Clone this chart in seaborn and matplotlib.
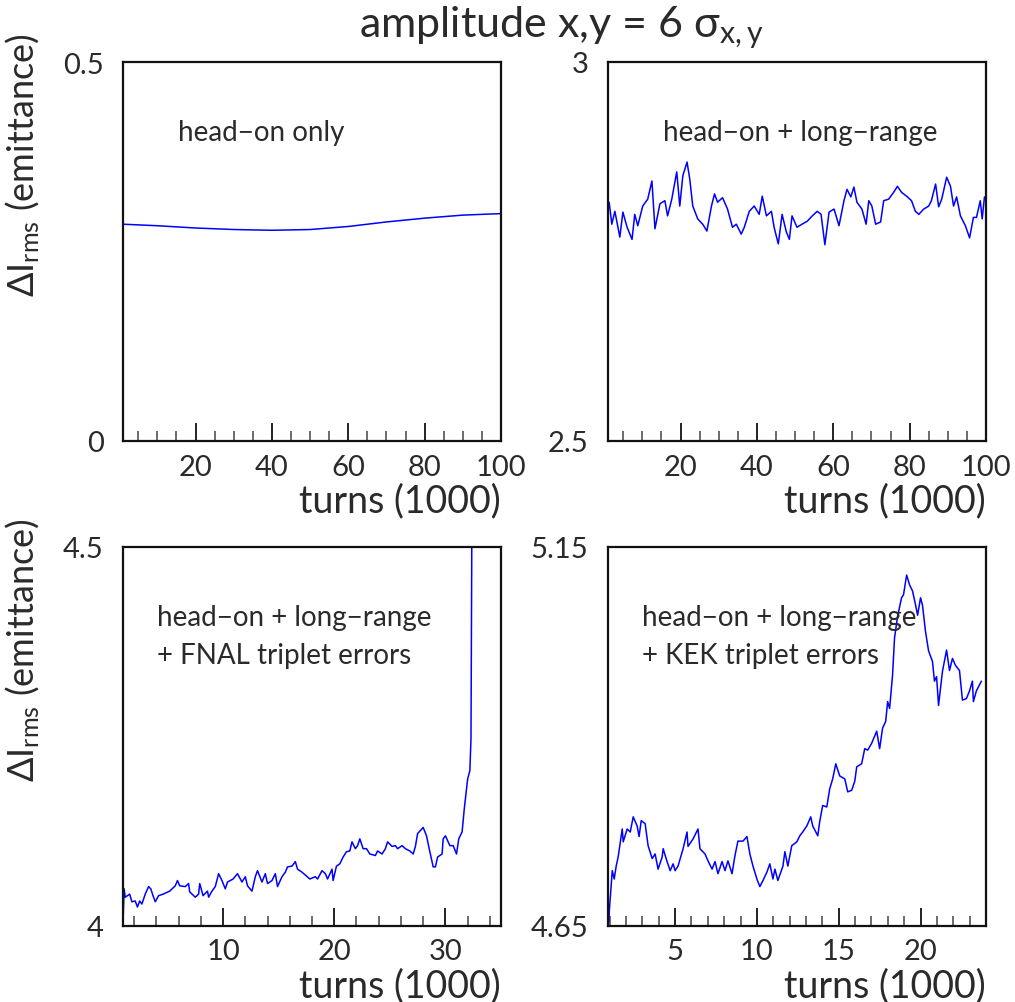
import numpy as np
import pandas as pd
import matplotlib
matplotlib.use("Agg")
import matplotlib.pyplot as plt
import seaborn as sns
from matplotlib.ticker import MultipleLocator, FixedLocator

# --- dane ---

# head-on only (gładka krzywa)
x_ho = [1, 10, 20, 30, 40, 50, 60, 70, 80, 90, 100]
y_ho = [0.286, 0.284, 0.281, 0.279, 0.278, 0.279, 0.283, 0.289, 0.294, 0.298, 0.300]

# head-on + long-range
x_lr = [1.3, 2.0, 2.8, 4.1, 4.9, 6.0, 7.3, 8.0, 8.8, 10.1,
        11.4, 12.5, 13.3, 14.6, 15.9, 16.6, 17.7, 19.0, 19.8, 20.6,
        21.7, 22.4, 23.2, 24.5, 25.8, 26.9, 28.1, 28.9, 29.7, 31.0,
        32.3, 33.6, 34.6, 35.9, 36.7, 38.0, 39.3, 40.6, 41.4, 42.5,
        43.8, 44.5, 45.6, 46.6, 47.7, 48.5, 49.2, 50.5, 51.8, 53.2,
        54.5, 55.8, 56.8, 57.8, 58.9, 60.2, 61.5, 62.8, 63.6, 64.6,
        65.4, 66.2, 67.5, 68.6, 69.3, 70.1, 71.1, 72.4, 73.2, 74.5,
        75.8, 76.8, 77.9, 79.2, 80.5, 81.5, 82.4, 83.7, 85.0, 85.7,
        86.8, 87.6, 88.4, 89.7, 90.7, 91.5, 92.3, 93.3, 94.6, 95.7,
        96.7, 97.5, 98.5, 99.0, 99.6]
y_lr = [2.815, 2.786, 2.803, 2.769, 2.802, 2.782, 2.766, 2.799, 2.784, 2.810,
        2.819, 2.843, 2.780, 2.813, 2.817, 2.797, 2.819, 2.855, 2.810, 2.850,
        2.868, 2.846, 2.810, 2.793, 2.786, 2.777, 2.810, 2.826, 2.815, 2.821,
        2.806, 2.782, 2.786, 2.773, 2.782, 2.803, 2.810, 2.799, 2.823, 2.797,
        2.803, 2.782, 2.760, 2.799, 2.776, 2.766, 2.797, 2.782, 2.786, 2.790,
        2.797, 2.803, 2.799, 2.759, 2.802, 2.806, 2.784, 2.817, 2.832, 2.822,
        2.835, 2.815, 2.806, 2.786, 2.817, 2.810, 2.786, 2.789, 2.817, 2.819,
        2.828, 2.836, 2.828, 2.823, 2.817, 2.803, 2.799, 2.806, 2.810, 2.817,
        2.839, 2.809, 2.819, 2.848, 2.836, 2.810, 2.822, 2.797, 2.784, 2.768,
        2.795, 2.795, 2.817, 2.793, 2.822]

# head-on + long-range + FNAL triplet errors
x_fnal = [1.0, 1.1, 1.2, 1.6, 1.8, 2.1, 2.3, 2.5, 2.7, 3.0,
          3.3, 3.5, 3.7, 3.9, 4.2, 4.6, 5.2, 5.7, 5.9, 6.1,
          6.6, 6.9, 7.0, 7.5, 7.8, 7.9, 8.2, 8.6, 8.7, 9.0,
          9.3, 9.6, 9.9, 10.2, 10.4, 10.9, 11.3, 11.7, 12.0, 12.2,
          12.6, 12.9, 13.1, 13.5, 13.8, 14.0, 14.4, 14.7, 14.9, 15.3,
          15.6, 15.8, 16.2, 16.5, 16.7, 17.1, 17.5, 17.8, 18.3, 18.5,
          18.9, 19.2, 19.4, 19.8, 19.9, 20.2, 20.5, 20.8, 21.1, 21.4,
          21.6, 21.9, 22.1, 22.3, 22.6, 22.9, 23.2, 23.7, 23.9, 24.3,
          24.6, 24.8, 25.2, 25.5, 25.7, 26.1, 26.4, 26.8, 27.1, 27.3,
          27.5, 28.0, 28.3, 28.6, 28.9, 29.1, 29.3, 29.7, 29.8, 30.0,
          30.4, 30.7, 31.0, 31.2, 31.5, 31.7, 32.0, 32.2, 32.3, 32.4]
y_fnal = [4.003, 4.049, 4.038, 4.042, 4.032, 4.033, 4.025, 4.033, 4.029, 4.042,
          4.052, 4.049, 4.040, 4.032, 4.040, 4.042, 4.046, 4.053, 4.060, 4.053,
          4.052, 4.056, 4.045, 4.038, 4.042, 4.056, 4.040, 4.046, 4.038, 4.046,
          4.052, 4.069, 4.060, 4.049, 4.058, 4.062, 4.069, 4.058, 4.065, 4.053,
          4.046, 4.065, 4.073, 4.058, 4.069, 4.056, 4.060, 4.069, 4.052, 4.065,
          4.071, 4.078, 4.079, 4.085, 4.075, 4.071, 4.066, 4.062, 4.065, 4.062,
          4.073, 4.069, 4.062, 4.075, 4.060, 4.079, 4.082, 4.091, 4.098, 4.099,
          4.111, 4.102, 4.106, 4.115, 4.102, 4.102, 4.095, 4.093, 4.099, 4.095,
          4.102, 4.111, 4.105, 4.106, 4.102, 4.106, 4.102, 4.099, 4.095, 4.105,
          4.122, 4.130, 4.119, 4.098, 4.078, 4.078, 4.091, 4.095, 4.115, 4.119,
          4.106, 4.106, 4.095, 4.115, 4.124, 4.155, 4.194, 4.205, 4.247, 4.600]

# head-on + long-range + KEK triplet errors
x_kek = [0.95, 0.98, 1.16, 1.28, 1.40, 1.52, 1.77, 1.83, 2.07, 2.26,
         2.44, 2.68, 2.80, 2.93, 3.17, 3.35, 3.60, 3.78, 3.96, 4.21,
         4.27, 4.51, 4.70, 4.88, 5.00, 5.18, 5.49, 5.73, 5.79, 6.10,
         6.40, 6.52, 6.83, 7.01, 7.26, 7.44, 7.62, 7.87, 8.05, 8.23,
         8.48, 8.66, 8.84, 9.15, 9.39, 9.57, 9.76, 10.00, 10.18, 10.37,
         10.61, 10.79, 10.98, 11.10, 11.28, 11.59, 11.71, 11.89, 12.13, 12.44,
         12.62, 12.80, 13.05, 13.29, 13.41, 13.72, 13.84, 14.02, 14.27, 14.45,
         14.63, 14.82, 15.06, 15.37, 15.55, 15.79, 15.98, 16.10, 16.40, 16.59,
         16.77, 17.01, 17.32, 17.50, 17.68, 17.87, 17.99, 18.11, 18.29, 18.41,
         18.60, 18.84, 18.96, 19.15, 19.33, 19.51, 19.70, 19.82, 20.00, 20.12,
         20.30, 20.49, 20.73, 20.85, 20.98, 21.10, 21.34, 21.59, 21.77, 21.95,
         22.13, 22.38, 22.56, 22.80, 22.99, 23.17, 23.23, 23.41, 23.60, 23.72]
y_kek = [4.655, 4.670, 4.723, 4.712, 4.729, 4.741, 4.778, 4.761, 4.778, 4.774,
         4.794, 4.782, 4.768, 4.789, 4.785, 4.756, 4.739, 4.745, 4.725, 4.741,
         4.752, 4.735, 4.723, 4.732, 4.723, 4.729, 4.752, 4.774, 4.755, 4.765,
         4.778, 4.752, 4.745, 4.736, 4.725, 4.735, 4.719, 4.735, 4.723, 4.736,
         4.719, 4.743, 4.762, 4.762, 4.768, 4.745, 4.729, 4.712, 4.702, 4.710,
         4.721, 4.732, 4.712, 4.725, 4.710, 4.729, 4.748, 4.729, 4.756, 4.761,
         4.769, 4.774, 4.782, 4.794, 4.782, 4.769, 4.788, 4.809, 4.807, 4.831,
         4.844, 4.864, 4.848, 4.844, 4.827, 4.829, 4.841, 4.860, 4.864, 4.884,
         4.882, 4.891, 4.907, 4.884, 4.911, 4.920, 4.946, 4.937, 4.981, 5.030,
         5.059, 5.083, 5.087, 5.113, 5.100, 5.092, 5.073, 5.060, 5.083, 5.073,
         5.039, 5.013, 4.999, 4.973, 4.979, 4.941, 4.986, 5.014, 4.987, 5.003,
         4.994, 4.987, 4.948, 4.950, 4.960, 4.973, 4.946, 4.960, 4.968, 4.973]

# opisy paneli, zakresy osi
labels = [["head\u2212on only"],
          ["head\u2212on + long\u2212range"],
          ["head\u2212on + long\u2212range", "+ FNAL triplet errors"],
          ["head\u2212on + long\u2212range", "+ KEK triplet errors"]]
xlims = [(1, 100), (1, 100), (1, 35), (0.9, 24)]
ylims = [(0, 0.5), (2.5, 3), (4, 4.5), (4.65, 5.15)]
ytick_labels = [["0", "0.5"], ["2.5", "3"], ["4", "4.5"], ["4.65", "5.15"]]
major_steps = [20, 20, 10, 5]
minor_steps = [5, 5, 2, 1]

series = [(x_ho, y_ho), (x_lr, y_lr), (x_fnal, y_fnal), (x_kek, y_kek)]

sns.set_theme(style="white")
plt.rcParams["font.family"] = ["Lato", "DejaVu Sans"]
plt.rcParams["font.weight"] = "normal"
plt.rcParams["mathtext.fontset"] = "custom"
plt.rcParams["mathtext.rm"] = "Lato"
plt.rcParams["mathtext.it"] = "Lato"
plt.rcParams["mathtext.bf"] = "Lato"

W, H = 1015, 1003
fig = plt.figure(figsize=(W / 100, H / 100), dpi=100)

# pozycje osi w pikselach (lewa krawędź, dolna krawędź od góry)
boxes = [(123, 442), (608, 442), (123, 927), (608, 927)]
aw, ah = 378, 379

text_col = "#2a2a2a"
for i, (bx, by) in enumerate(boxes):
    ax = fig.add_axes([bx / W, (H - by) / H, aw / W, ah / H])
    xs, ys = series[i]
    df = pd.DataFrame({"turns": xs, "dI": ys})
    sns.lineplot(data=df, x="turns", y="dI", ax=ax, color="#0000ff",
                 linewidth=1.1, estimator=None, sort=False)
    ax.set_xlim(*xlims[i])
    ax.set_ylim(*ylims[i])
    ax.xaxis.set_major_locator(MultipleLocator(major_steps[i]))
    ax.xaxis.set_minor_locator(MultipleLocator(minor_steps[i]))
    ax.yaxis.set_major_locator(FixedLocator(list(ylims[i])))
    ax.set_yticklabels(ytick_labels[i])
    ax.tick_params(axis="x", which="major", direction="in", length=13,
                   width=1.3, color="#111111", labelsize=21, pad=9,
                   labelcolor=text_col, bottom=True, top=False)
    ax.tick_params(axis="x", which="minor", direction="in", length=7,
                   width=1.1, color="#444444", bottom=True, top=False)
    ax.tick_params(axis="y", which="both", length=0, labelsize=21, pad=14,
                   labelcolor=text_col)
    for s in ax.spines.values():
        s.set_visible(True)
        s.set_color("#111111")
        s.set_linewidth(1.6)
    ax.set_xlabel("turns (1000)", loc="right", fontsize=27, color=text_col,
                  fontweight="normal", labelpad=2)
    if i % 2 == 0:
        ax.set_ylabel(r"$\Delta$I$_{\mathrm{rms}}$ (emittance)", fontsize=26,
                      color=text_col, fontweight="normal")
        ax.yaxis.set_label_coords(-0.215, 0.73)
    else:
        ax.set_ylabel("")
    for k, line in enumerate(labels[i]):
        ax.text(0.145 if i < 2 else 0.09, 0.815 - 0.1 * k, line,
                transform=ax.transAxes, fontsize=20, color=text_col,
                va="center", ha="left")

fig.text(0.553, 0.972, r"amplitude x,y = 6 $\sigma_{\mathrm{x,y}}$",
         ha="center", va="center", fontsize=31, color=text_col)

fig.savefig("out.png", dpi=100)
